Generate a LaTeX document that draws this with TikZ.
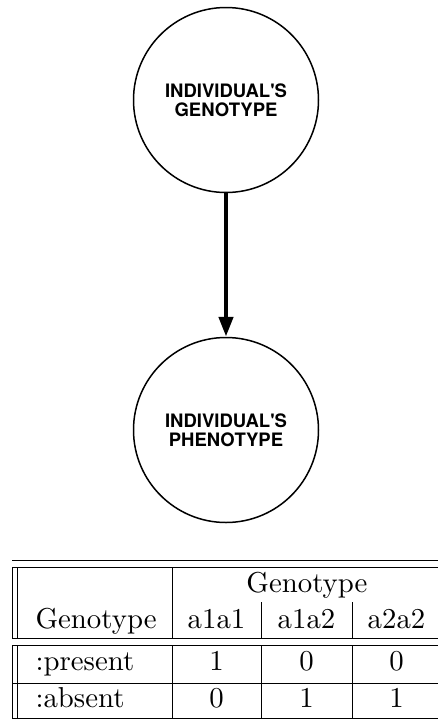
\documentclass[tikz,border=0pt]{standalone}
\usepackage{fontspec}
\newfontfamily\labelfont{TeX Gyre Heros}[Ligatures=TeXOff]
\usetikzlibrary{arrows.meta}
\begin{document}
\begin{tikzpicture}[x=1pt,y=-1pt,
  state/.style={circle,draw,line width=1.5pt,minimum size=185pt,inner sep=0pt,
    align=center,font=\labelfont\bfseries\fontsize{18.5}{19}\selectfont},
  link/.style={line width=4.5pt,-{Triangle[length=20pt,width=14pt]}},
  rule/.style={line width=0.9pt},
  cell/.style={anchor=base,scale=2.88,inner sep=0pt},
  lcell/.style={anchor=base west,scale=2.88,inner sep=0pt}]
\useasboundingbox (0,0) rectangle (438,721);

% belief network: genotype determines phenotype
\node[state] (geno) at (226,100) {INDIVIDUAL'S\\GENOTYPE};
\node[state] (pheno) at (226,430) {INDIVIDUAL'S\\PHENOTYPE};
\draw[link] (geno.south) -- (pheno.north);

% conditional probability table
\draw[rule] (12,560) -- (438,560);
\draw[rule] (12,567) -- (438,567);
\draw[rule] (12,638) -- (438,638);
\draw[rule] (12,645) -- (438,645);
\draw[rule] (12,683) -- (438,683);
\draw[rule] (12,718) -- (438,718);
\foreach \xx in {12,17,172} {
  \draw[rule] (\xx,567) -- (\xx,638);
  \draw[rule] (\xx,645) -- (\xx,718);
}
\foreach \xx in {261,352} {
  \draw[rule] (\xx,602) -- (\xx,638);
  \draw[rule] (\xx,645) -- (\xx,718);
}

\node[cell] (span) at (307,592) {Genotype};
\node[lcell] (rowhead) at (35,628) {Genotype};
\node[cell] (c1) at (216.5,628) {a1a1};
\node[cell] (c2) at (306.5,628) {a1a2};
\node[cell] (c3) at (396.5,628) {a2a2};

\node[lcell] (r1) at (35,670) {:present};
\node[cell] (v11) at (216.5,670) {1};
\node[cell] (v12) at (306.5,670) {0};
\node[cell] (v13) at (396.5,670) {0};

\node[lcell] (r2) at (35,707) {:absent};
\node[cell] (v21) at (216.5,707) {0};
\node[cell] (v22) at (306.5,707) {1};
\node[cell] (v23) at (396.5,707) {1};
\end{tikzpicture}
\end{document}
